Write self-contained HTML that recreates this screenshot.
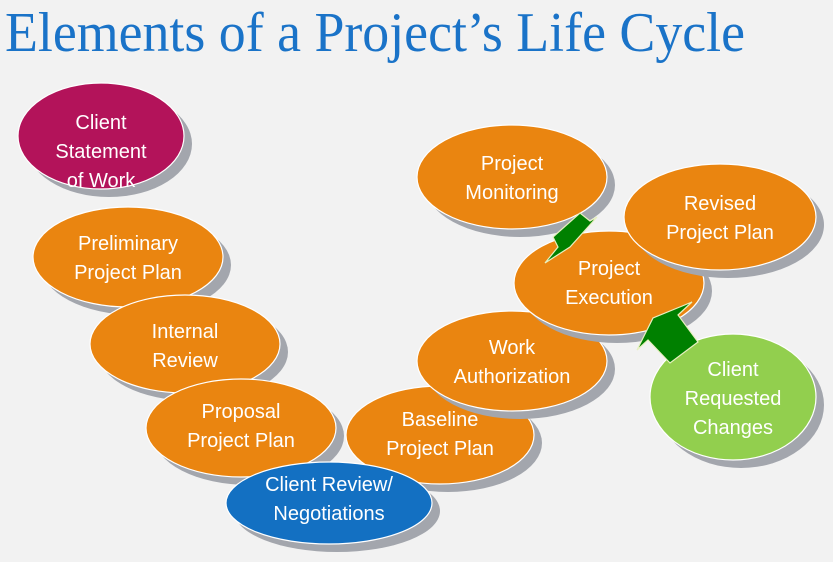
<!DOCTYPE html>
<html><head><style>
html,body{margin:0;padding:0;background:#f2f2f2;}
svg{display:block;}
text{font-family:"Liberation Sans",sans-serif;fill:#fff;font-size:20px;text-anchor:middle;}
</style></head><body>
<svg width="833" height="562" viewBox="0 0 833 562" xmlns="http://www.w3.org/2000/svg">
<rect width="833" height="562" fill="#f2f2f2"/>
<text x="375" y="51" style="font-family:'Liberation Serif',serif;font-size:56px;fill:#1a73c8;" textLength="740" lengthAdjust="spacingAndGlyphs">Elements of a Project’s Life Cycle</text>
<g stroke="#fff" stroke-width="1.2">
<ellipse cx="109" cy="144" rx="83" ry="53" fill="#a3a6ad" stroke="none"/>
<ellipse cx="101" cy="136" rx="83" ry="53" fill="#b3135a"/>
<ellipse cx="136" cy="265" rx="95" ry="50" fill="#a3a6ad" stroke="none"/>
<ellipse cx="128" cy="257" rx="95" ry="50" fill="#ea8510"/>
<ellipse cx="193" cy="352" rx="95" ry="49" fill="#a3a6ad" stroke="none"/>
<ellipse cx="185" cy="344" rx="95" ry="49" fill="#ea8510"/>
<ellipse cx="249" cy="436" rx="95" ry="49" fill="#a3a6ad" stroke="none"/>
<ellipse cx="241" cy="428" rx="95" ry="49" fill="#ea8510"/>
<ellipse cx="448" cy="443" rx="94" ry="49" fill="#a3a6ad" stroke="none"/>
<ellipse cx="440" cy="435" rx="94" ry="49" fill="#ea8510"/>
<ellipse cx="337" cy="511" rx="103" ry="41" fill="#a3a6ad" stroke="none"/>
<ellipse cx="329" cy="503" rx="103" ry="41" fill="#1370c2"/>
<ellipse cx="520" cy="369" rx="95" ry="50" fill="#a3a6ad" stroke="none"/>
<ellipse cx="512" cy="361" rx="95" ry="50" fill="#ea8510"/>
<ellipse cx="520" cy="185" rx="95" ry="52" fill="#a3a6ad" stroke="none"/>
<ellipse cx="512" cy="177" rx="95" ry="52" fill="#ea8510"/>
<ellipse cx="617" cy="291" rx="95" ry="52" fill="#a3a6ad" stroke="none"/>
<ellipse cx="609" cy="283" rx="95" ry="52" fill="#ea8510"/>
<ellipse cx="728" cy="225" rx="96" ry="53" fill="#a3a6ad" stroke="none"/>
<ellipse cx="720" cy="217" rx="96" ry="53" fill="#ea8510"/>
<ellipse cx="741" cy="405" rx="83" ry="63" fill="#a3a6ad" stroke="none"/>
<ellipse cx="733" cy="397" rx="83" ry="63" fill="#92cf4e"/>
<polygon points="553,237 580,213 590,221 597,217 570,247 545,263 558,247" fill="#008000" stroke="#e8f0c0"/>
<polygon points="637,350 653,318 692,302 678,315 698,342 670,363 648,340" fill="#008000" stroke="#e8f0c0"/>
</g>
<text x="101" y="129">Client</text><text x="101" y="158">Statement</text><text x="101" y="187">of Work</text>
<text x="128" y="250">Preliminary</text><text x="128" y="279">Project Plan</text>
<text x="185" y="338">Internal</text><text x="185" y="367">Review</text>
<text x="241" y="418">Proposal</text><text x="241" y="447">Project Plan</text>
<text x="329" y="491">Client Review/</text><text x="329" y="520">Negotiations</text>
<text x="440" y="426">Baseline</text><text x="440" y="455">Project Plan</text>
<text x="512" y="354">Work</text><text x="512" y="383">Authorization</text>
<text x="512" y="170">Project</text><text x="512" y="199">Monitoring</text>
<text x="609" y="275">Project</text><text x="609" y="304">Execution</text>
<text x="720" y="210">Revised</text><text x="720" y="239">Project Plan</text>
<text x="733" y="376">Client</text><text x="733" y="405">Requested</text><text x="733" y="434">Changes</text>
</svg>
</body></html>
